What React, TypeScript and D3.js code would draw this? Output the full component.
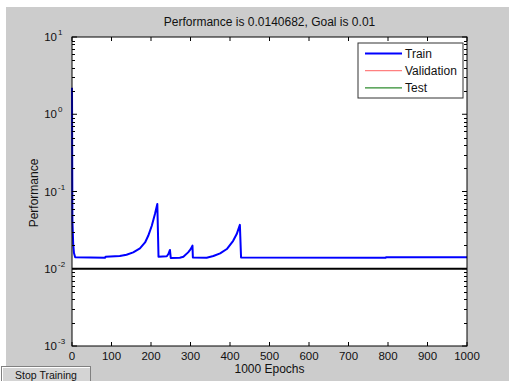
import * as d3 from "d3";
import React from "react";

// training record
const epochs = [0, 1, 2, 3, 5, 8, 84, 85, 121, 138, 155, 172, 185, 193, 202, 210, 216, 219, 240, 244, 248, 250, 273, 282, 294, 300, 305, 306, 341, 358, 375, 392, 408, 417, 425, 428, 794, 795, 1000];
const trainPerf = [2.2, 0.043, 0.03, 0.021, 0.016, 0.0141, 0.0139, 0.0143, 0.0146, 0.0152, 0.0163, 0.0183, 0.0219, 0.0267, 0.036, 0.051, 0.069, 0.0143, 0.0145, 0.0155, 0.0175, 0.0138, 0.0139, 0.0143, 0.0163, 0.0178, 0.0199, 0.014, 0.0139, 0.0146, 0.0158, 0.018, 0.023, 0.0281, 0.037, 0.014, 0.0139, 0.01407, 0.01407];
const goal = 0.01;
const xTicks = [0, 100, 200, 300, 400, 500, 600, 700, 800, 900, 1000];
const yDecades = [-3, -2, -1, 0, 1];
const legendItems = ["Train", "Validation", "Test"];
const legendColors = ["#0000ff", "#ff8080", "#2e8b2e"];

const W = 509;
const H = 381;
const plot = { left: 72, right: 467, top: 37, bottom: 346 };
const font = "Arial, 'Liberation Sans', sans-serif";

export default function App() {
  const x = d3.scaleLinear().domain([0, 1000]).range([plot.left, plot.right]);
  const y = d3.scaleLog().domain([1e-3, 10]).range([plot.bottom, plot.top]);

  const line = d3
    .line<number>()
    .x((d, i) => x(epochs[i]))
    .y((d) => y(d));

  // minor log ticks
  const minor: number[] = [];
  yDecades.slice(0, -1).forEach((e) => {
    for (let k = 2; k <= 9; k++) minor.push(k * Math.pow(10, e));
  });

  return (
    <svg width={W} height={H} style={{ position: "absolute", left: 0, top: 0 }} fontFamily={font}>
      <rect x={0} y={0} width={W} height={H} fill="#ffffff" />
      <rect x={6} y={7} width={W - 6} height={H - 7} fill="#cccccc" />

      <text x={(plot.left + plot.right) / 2} y={26} fontSize={12} textAnchor="middle" fill="#111">
        Performance is 0.0140682, Goal is 0.01
      </text>

      <rect x={plot.left} y={plot.top} width={plot.right - plot.left} height={plot.bottom - plot.top} fill="#ffffff" />

      {/* goal */}
      <line x1={plot.left} x2={plot.right} y1={y(goal)} y2={y(goal)} stroke="#000" strokeWidth={2} />
      {/* train curve */}
      <path d={line(trainPerf) || ""} fill="none" stroke="#0000ff" strokeWidth={2} strokeLinejoin="round" />

      {/* frame */}
      <rect x={plot.left} y={plot.top} width={plot.right - plot.left} height={plot.bottom - plot.top} fill="none" stroke="#000" strokeWidth={1} />

      {/* x ticks */}
      {xTicks.map((t) => (
        <g key={"x" + t}>
          <line x1={x(t)} x2={x(t)} y1={plot.bottom} y2={plot.bottom - 4} stroke="#000" />
          <line x1={x(t)} x2={x(t)} y1={plot.top} y2={plot.top + 4} stroke="#000" />
          <text x={x(t)} y={360} fontSize={11.5} textAnchor="middle" fill="#111">
            {t}
          </text>
        </g>
      ))}

      {/* y ticks */}
      {yDecades.map((e) => {
        const yy = y(Math.pow(10, e));
        return (
          <g key={"y" + e}>
            <line x1={plot.left} x2={plot.left + 5} y1={yy} y2={yy} stroke="#000" />
            <line x1={plot.right} x2={plot.right - 5} y1={yy} y2={yy} stroke="#000" />
            <text x={57} y={yy + 4} fontSize={11.5} textAnchor="end" fill="#111">
              10
            </text>
            <text x={58} y={yy - 2} fontSize={8} fill="#111">
              {e}
            </text>
          </g>
        );
      })}
      {minor.map((v, i) => (
        <g key={"m" + i}>
          <line x1={plot.left} x2={plot.left + 3} y1={Math.round(y(v)) + 0.5} y2={Math.round(y(v)) + 0.5} stroke="#000" />
          <line x1={plot.right} x2={plot.right - 3} y1={Math.round(y(v)) + 0.5} y2={Math.round(y(v)) + 0.5} stroke="#000" />
        </g>
      ))}

      {/* axis labels */}
      <text x={(plot.left + plot.right) / 2} y={373} fontSize={12} textAnchor="middle" fill="#111">
        1000 Epochs
      </text>
      <text transform="translate(38,193) rotate(-90)" fontSize={12} textAnchor="middle" fill="#111">
        Performance
      </text>

      {/* legend */}
      <rect x={358} y={43} width={105} height={55} fill="#ffffff" stroke="#333" strokeWidth={1} />
      {legendItems.map((name, i) => {
        const ly = 53.5 + i * 17.2;
        return (
          <g key={name}>
            <line x1={365} x2={402} y1={ly} y2={ly} stroke={legendColors[i]} strokeWidth={i === 0 ? 2 : 1.2} />
            <text x={405} y={ly + 4.5} fontSize={12} fill="#111">
              {name}
            </text>
          </g>
        );
      })}

      {/* stop button */}
      <rect x={1.5} y={366.5} width={89} height={16} fill="#d4d4d4" stroke="#808080" />
      <line x1={2} x2={90} y1={367.5} y2={367.5} stroke="#ffffff" />
      <line x1={2.5} x2={2.5} y1={367} y2={381} stroke="#ffffff" />
      <text x={46} y={378.5} fontSize={10.5} textAnchor="middle" fill="#111">
        Stop Training
      </text>
    </svg>
  );
}
